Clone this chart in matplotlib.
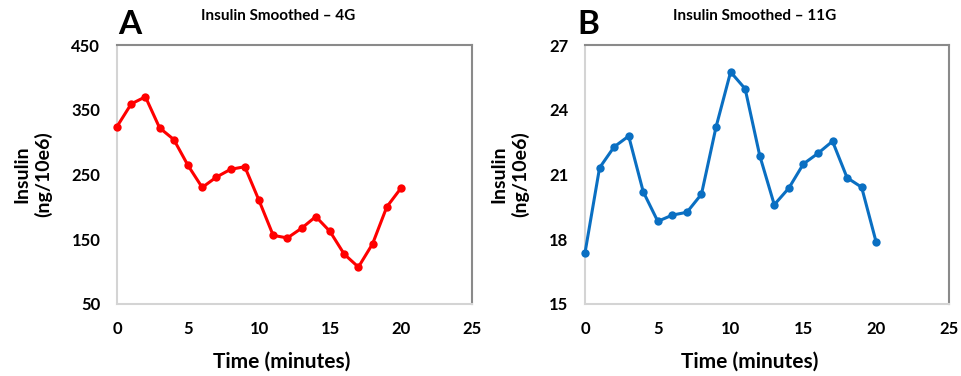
import matplotlib
matplotlib.use("Agg")
import matplotlib.pyplot as plt

plt.rcParams['font.family'] = ['Lato', 'DejaVu Sans']
plt.rcParams['font.weight'] = 'bold'

time_min = list(range(21))
insulin_4g = [324, 359, 370, 322, 304, 264, 230, 246, 258, 262, 210,
              156, 152, 167, 185, 162, 127, 107, 143, 200, 229]
insulin_11g = [17.37, 21.31, 22.28, 22.78, 20.20, 18.83, 19.12, 19.25, 20.09, 23.20, 25.75,
               24.97, 21.88, 19.60, 20.37, 21.49, 21.98, 22.54, 20.85, 20.41, 17.86]

x_ticks = [0, 5, 10, 15, 20, 25]
y_ticks_4g = [50, 150, 250, 350, 450]
y_ticks_11g = [15, 18, 21, 24, 27]

W, H = 962, 376
fig = plt.figure(figsize=(W / 100, H / 100), dpi=100)

def px_axes(left, top, right, bottom):
    return fig.add_axes([left / W, 1 - bottom / H, (right - left) / W, (bottom - top) / H])

ax_a = px_axes(117, 45, 472, 304)
ax_b = px_axes(585, 45, 949, 304)

panels = [
    (ax_a, insulin_4g, '#ff0000', y_ticks_4g, 'A', 'Insulin Smoothed – 4G', 278, 118, 0.465),
    (ax_b, insulin_11g, '#0a6fc2', y_ticks_11g, 'B', 'Insulin Smoothed – 11G', 755, 577, 0.452),
]

for ax, values, color, yticks, letter, title, title_x, letter_x, xlab_pos in panels:
    ax.plot(time_min, values, color=color, lw=2.2, marker='o', ms=6,
            markeredgewidth=0, solid_joinstyle='round', clip_on=False, zorder=3)
    ax.set_xlim(x_ticks[0], x_ticks[-1])
    ax.set_ylim(yticks[0], yticks[-1])
    ax.set_xticks(x_ticks)
    ax.set_yticks(yticks)
    ax.tick_params(length=0, labelsize=12, pad=12)
    for lab in ax.get_xticklabels() + ax.get_yticklabels():
        lab.set_fontweight('bold')
    ax.spines['left'].set_color('#d4d4d4')
    ax.spines['bottom'].set_color('#d4d4d4')
    ax.spines['top'].set_color('#8a8a8a')
    ax.spines['right'].set_color('#8a8a8a')
    for s in ax.spines.values():
        s.set_linewidth(1.5)
    ax.set_xlabel('Time (minutes)', fontsize=15, fontweight='bold')
    ax.xaxis.label.set_va('center')
    ax.xaxis.set_label_coords(xlab_pos, -0.224)
    ax.set_ylabel('Insulin\n(ng/10e6)', fontsize=14, fontweight='bold', labelpad=14,
                  linespacing=1.25)
    fig.text(title_x / W, 1 - 16 / H, title, ha='center', va='center',
             fontsize=11, fontweight='bold')
    fig.text(letter_x / W, 1 - 24 / H, letter, ha='left', va='center',
             fontsize=24, fontweight='bold')

fig.savefig('out.png', dpi=100, facecolor='white')
